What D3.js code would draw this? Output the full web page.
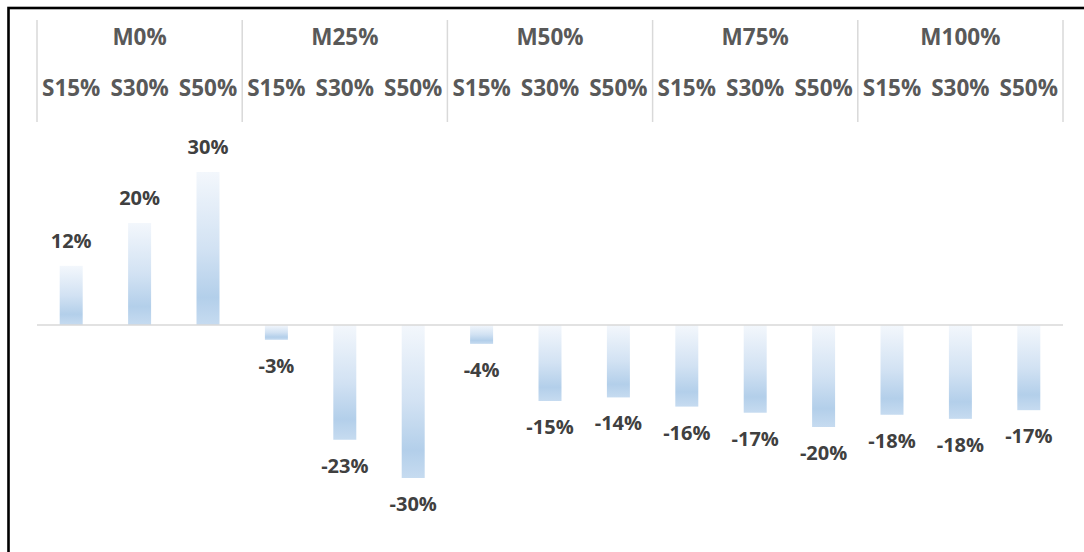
<!DOCTYPE html>
<html>
<head>
<meta charset="utf-8">
<script src="https://cdn.jsdelivr.net/npm/d3@7"></script>
<style>
  html, body { margin: 0; padding: 0; background: #fff; }
  svg { display: block; }
  text { font-family: "Open Sans", "Liberation Sans", sans-serif; font-weight: 700; }
</style>
</head>
<body>
<svg id="chart" width="1084" height="552"></svg>
<script>
// Outer groups (M) and inner categories (S)
const groups = ["M0%", "M25%", "M50%", "M75%", "M100%"];
const subgroups = ["S15%", "S30%", "S50%"];

// Values per M group, in S15 / S30 / S50 order
const m0   = [0.116, 0.200, 0.300];
const m25  = [-0.029, -0.225, -0.300];
const m50  = [-0.037, -0.149, -0.142];
const m75  = [-0.160, -0.172, -0.200];
const m100 = [-0.176, -0.184, -0.167];
const seriesValues = [m0, m25, m50, m75, m100];

// Value axis limits
const yTicks = [-0.4, 0.4];

const data = [];
groups.forEach((g, gi) => {
  subgroups.forEach((s, si) => {
    data.push({ key: g + "|" + s, group: g, sub: s, value: seriesValues[gi][si] });
  });
});

const svg = d3.select("#chart");
const left = 37, right = 1063;

const x = d3.scaleBand()
  .domain(data.map(d => d.key))
  .range([left, right])
  .paddingInner(0.664)
  .paddingOuter(0.332);

const y = d3.scaleLinear()
  .domain(yTicks)
  .range([529, 121]);

// Bar gradient: pale at top, blue towards the bottom
const defs = svg.append("defs");
const grad = defs.append("linearGradient")
  .attr("id", "barFill")
  .attr("x1", 0).attr("y1", 0).attr("x2", 0).attr("y2", 1);
grad.append("stop").attr("offset", "0%").attr("stop-color", "#f3f7fc");
grad.append("stop").attr("offset", "50%").attr("stop-color", "#d2e2f3");
grad.append("stop").attr("offset", "82%").attr("stop-color", "#b3cfea");
grad.append("stop").attr("offset", "100%").attr("stop-color", "#c6dbf0");

// Chart frame (left and top edges visible)
svg.append("rect")
  .attr("x", 8.5).attr("y", 8)
  .attr("width", 1200).attr("height", 700)
  .attr("fill", "none")
  .attr("stroke", "#000")
  .attr("stroke-width", 2.6);

// Bars
svg.append("g").selectAll("rect")
  .data(data)
  .join("rect")
  .attr("x", d => x(d.key))
  .attr("width", x.bandwidth())
  .attr("y", d => Math.min(y(d.value), y(0)))
  .attr("height", d => Math.abs(y(d.value) - y(0)))
  .attr("fill", "url(#barFill)");

// Zero line
svg.append("line")
  .attr("x1", left).attr("x2", right)
  .attr("y1", y(0)).attr("y2", y(0))
  .attr("stroke", "#d9d9d9")
  .attr("stroke-width", 1.6);

// Data labels (plain hyphen for negatives)
const pct = d3.format(".0%");
const fmt = v => pct(v).replace("\u2212", "-");
svg.append("g").selectAll("text")
  .data(data)
  .join("text")
  .attr("x", d => x(d.key) + x.bandwidth() / 2)
  .attr("y", d => d.value >= 0 ? y(d.value) - 18 : y(d.value) + 33)
  .attr("text-anchor", "middle")
  .attr("font-size", 20)
  .attr("fill", "#404040")
  .text(d => fmt(d.value));

// Category header: S labels
svg.append("g").selectAll("text")
  .data(data)
  .join("text")
  .attr("x", d => x(d.key) + x.bandwidth() / 2)
  .attr("y", 96)
  .attr("text-anchor", "middle")
  .attr("font-size", 22.5)
  .attr("fill", "#595959")
  .text(d => d.sub);

// Category header: M group labels
const step = x.step();
svg.append("g").selectAll("text")
  .data(groups)
  .join("text")
  .attr("x", (g, i) => left + step * (i * 3 + 1.5))
  .attr("y", 45)
  .attr("text-anchor", "middle")
  .attr("font-size", 22.5)
  .attr("fill", "#595959")
  .text(g => g);

// Group separators
svg.append("g").selectAll("line")
  .data(d3.range(groups.length + 1))
  .join("line")
  .attr("x1", i => left + step * i * 3)
  .attr("x2", i => left + step * i * 3)
  .attr("y1", 20).attr("y2", 122)
  .attr("stroke", "#d9d9d9")
  .attr("stroke-width", 1.5);
</script>
</body>
</html>
